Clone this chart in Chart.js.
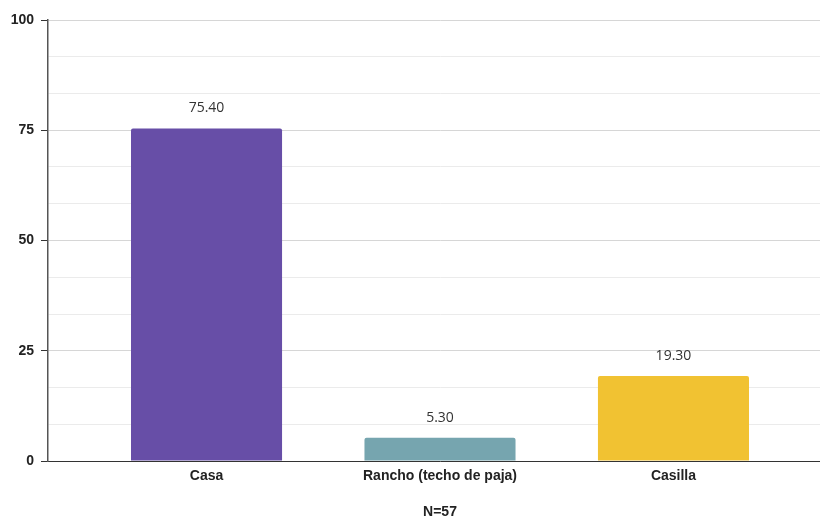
<!DOCTYPE html>
<html>
<head>
<meta charset="utf-8">
<script src="https://cdn.jsdelivr.net/npm/chart.js@4/dist/chart.umd.min.js"></script>
<style>
  html, body { margin: 0; padding: 0; background: #fff; overflow: hidden; }
</style>
</head>
<body>
<canvas id="viviendaChart" width="832" height="516"></canvas>
<script>
const categories = ['Casa', 'Rancho (techo de paja)', 'Casilla'];
const porcentajes = [75.40, 5.30, 19.30];
const barColors = ['#674ea7', '#76a5af', '#f1c232'];
const yTickValues = [0, 25, 50, 75, 100];
const sampleLabel = 'N=57';

// grid lines every third of a labelled step
const yGridValues = [];
for (let i = 0; i <= 12; i++) {
  yGridValues.push(i * 25 / 3)
}

const isMajor = v => yTickValues.some(t => Math.abs(t - v) < 0.01);

const valueLabels = {
  id: 'valueLabels',
  afterDatasetsDraw(chart) {
    const ctx = chart.ctx;
    const meta = chart.getDatasetMeta(0);
    ctx.save();
    ctx.font = '14px "Open Sans", sans-serif';
    ctx.fillStyle = '#333';
    ctx.textAlign = 'center';
    ctx.textBaseline = 'middle';
    meta.data.forEach((bar, i) => {
      ctx.fillText(porcentajes[i].toFixed(2), bar.x, bar.y - 20);
    });
    ctx.restore();
  }
};

new Chart(document.getElementById('viviendaChart').getContext('2d'), {
  type: 'bar',
  data: {
    datasets: [{
      data: porcentajes.map((v, i) => ({x: i, y: v})),
      backgroundColor: barColors,
      borderRadius: {topLeft: 2, topRight: 2},
      borderSkipped: 'bottom',
      categoryPercentage: 1,
      barPercentage: 0.647
    }]
  },
  options: {
    responsive: false,
    animation: false,
    layout: {padding: {top: 20, right: 0, left: 0, bottom: 0}},
    plugins: {legend: {display: false}, tooltip: {enabled: false}},
    scales: {
      x: {
        type: 'linear',
        offset: false,
        min: -0.679,
        max: 2.679,
        afterBuildTicks: scale => { scale.ticks = categories.map((c, i) => ({value: i})) },
        afterFit: scale => { scale.height = 55 },
        grid: {display: false, drawTicks: false, offset: false},
        border: {display: true, color: '#333', width: 1},
        ticks: {
          padding: 7,
          autoSkip: false,
          maxRotation: 0,
          color: '#222',
          font: {family: '"Liberation Sans", Arial, sans-serif', size: 14, weight: 'bold'},
          callback: value => categories[value] || ''
        },
        title: {
          display: true,
          text: sampleLabel,
          color: '#222',
          padding: {top: 0, bottom: -5},
          font: {family: '"Liberation Sans", Arial, sans-serif', size: 14, weight: 'bold'}
        }
      },
      y: {
        min: 0,
        max: 100,
        afterBuildTicks: scale => { scale.ticks = yGridValues.map(v => ({value: v})) },
        afterFit: scale => { scale.width = 48 },
        border: {display: true, color: '#555', width: 1.5},
        grid: {
          color: ctx => isMajor(ctx.tick.value) ? '#d6d6d6' : '#ebebeb',
          tickColor: ctx => isMajor(ctx.tick.value) ? '#333' : 'rgba(0,0,0,0)',
          tickLength: 7
        },
        ticks: {
          padding: 7,
          color: '#222',
          font: {family: '"Liberation Sans", Arial, sans-serif', size: 14, weight: 'bold'},
          callback: value => isMajor(value) ? Math.round(value) : ''
        }
      }
    }
  },
  plugins: [valueLabels]
});
</script>
</body>
</html>
